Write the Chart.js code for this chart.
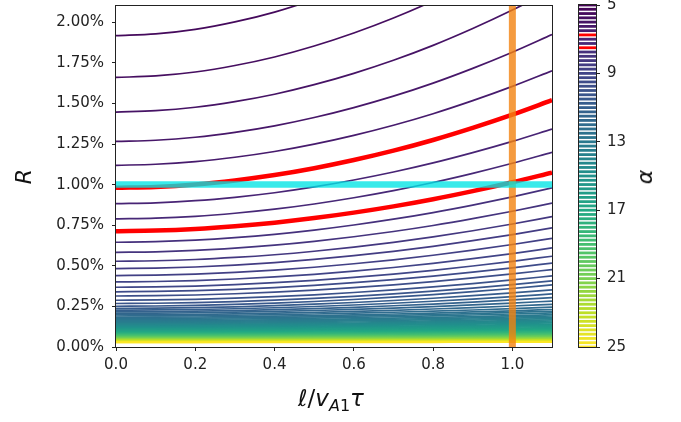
<!DOCTYPE html>
<html>
<head>
<meta charset="utf-8">
<script src="https://cdn.jsdelivr.net/npm/chart.js@4.4.1/dist/chart.umd.min.js"></script>
<style>
html, body { margin: 0; padding: 0; background: #fff; }
#wrap { position: relative; width: 681px; height: 422px; overflow: hidden; }
#main { position: absolute; left: 0; top: 0; }
#cbar { position: absolute; left: 560px; top: 0; }
.lbl { position: absolute; font-family: "DejaVu Sans"; color: #111; white-space: nowrap; line-height: 1; }
</style>
</head>
<body>
<div id="wrap">
  <canvas id="main" width="681" height="422"></canvas>
  <canvas id="cbar" width="121" height="422"></canvas>
  <div class="lbl" id="xlab" style="left:331px; top:387px; font-size:23px; transform:translateX(-50%);"><i>ℓ</i>/<i>v</i><span style="font-size:16px; position:relative; top:5px;"><i>A</i>1</span><i>τ</i></div>
  <div class="lbl" id="alab" style="left:645px; top:177px; font-size:22px; transform:translate(-50%,-50%) rotate(-90deg);"><i>α</i></div>
</div>
<script>
// niveaux de contour (alpha), de 5 a 25
const levels = [5.00,5.25,5.50,5.75,6.00,6.25,6.50,6.75,7.00,7.25,7.50,7.75,8.00,8.25,8.50,8.75,9.00,9.25,9.50,9.75,
  10.00,10.25,10.50,10.75,11.00,11.25,11.50,11.75,12.00,12.25,12.50,12.75,13.00,13.25,13.50,13.75,14.00,14.25,14.50,14.75,
  15.00,15.25,15.50,15.75,16.00,16.25,16.50,16.75,17.00,17.25,17.50,17.75,18.00,18.25,18.50,18.75,19.00,19.25,19.50,19.75,
  20.00,20.25,20.50,20.75,21.00,21.25,21.50,21.75,22.00,22.25,22.50,22.75,23.00,23.25,23.50,23.75,24.00,24.25,24.50,24.75,25.00];

// R (en %) de chaque contour a gauche (x = 0) et a droite (x = 1.1)
const rLeft = [2.90,2.36,1.917,1.660,1.447,1.266,1.119,0.980,0.883,0.789,0.713,0.645,0.583,0.528,0.483,0.440,0.401,0.368,0.340,0.314,
  0.288,0.268,0.251,0.238,0.227,0.217,0.208,0.199,0.191,0.183,0.176,0.169,0.162,0.156,0.150,0.144,0.139,0.134,0.129,0.124,
  0.119,0.115,0.111,0.107,0.103,0.099,0.096,0.093,0.090,0.087,0.084,0.081,0.078,0.076,0.073,0.071,0.069,0.066,0.064,0.062,
  0.060,0.058,0.056,0.054,0.052,0.050,0.048,0.047,0.045,0.043,0.042,0.040,0.039,0.037,0.036,0.034,0.033,0.032,0.030,0.029,0.028];
const rRight = [4.41,3.59,2.914,2.523,2.199,1.924,1.701,1.520,1.342,1.199,1.074,0.980,0.886,0.803,0.734,0.669,0.610,0.559,0.517,0.477,
  0.438,0.407,0.382,0.352,0.327,0.304,0.283,0.263,0.245,0.231,0.220,0.210,0.199,0.191,0.183,0.175,0.167,0.160,0.154,0.148,
  0.141,0.136,0.131,0.126,0.119,0.115,0.111,0.107,0.103,0.099,0.095,0.092,0.088,0.086,0.082,0.080,0.077,0.074,0.071,0.069,
  0.066,0.064,0.062,0.059,0.057,0.055,0.053,0.051,0.049,0.047,0.045,0.043,0.042,0.040,0.039,0.036,0.035,0.034,0.032,0.031,0.030];

// forme commune de la montee des courbes (fraction de la montee totale)
const xSamples = [0, 0.1, 0.2, 0.3, 0.4, 0.5, 0.6, 0.7, 0.8, 0.9, 1.0, 1.1];
const riseShape = [0, 0.011, 0.039, 0.085, 0.146, 0.224, 0.317, 0.424, 0.546, 0.684, 0.835, 1];

const redLevels = [6.75, 7.5];
const cyanR = 1.0;
const orangeX = 1.0;

const xTicks = [0, 0.2, 0.4, 0.6, 0.8, 1.0];
const yTicks = [0, 0.25, 0.5, 0.75, 1.0, 1.25, 1.5, 1.75, 2.0];
const cbTicks = [5, 9, 13, 17, 21, 25];

// palette viridis
const viridisStops = ['#440154','#482475','#414487','#355f8d','#2a788e','#21918c','#22a884','#44bf70','#7ad151','#bddf26','#fde725'];
function hexRgb(h) { return [1, 3, 5].map(k => parseInt(h.substr(k, 2), 16)); }
function viridis(t) {
  t = Math.min(1, Math.max(0, t)) * (viridisStops.length - 1);
  const i = Math.min(Math.floor(t), viridisStops.length - 2);
  const f = t - i;
  const a = hexRgb(viridisStops[i]), b = hexRgb(viridisStops[i + 1]);
  return 'rgb(' + a.map((v, k) => Math.round(v + (b[k] - v) * f)).join(',') + ')';
}
function levelColor(a) { return redLevels.includes(a) ? '#ff0000' : viridis((a - 5) / 20); }

const framePlugin = {
  id: 'frame',
  afterDatasetsDraw(chart) {
    const { ctx, chartArea: a } = chart;
    ctx.save();
    ctx.strokeStyle = '#222';
    ctx.lineWidth = 1;
    ctx.strokeRect(a.left - 0.5, a.top - 0.5, a.right - a.left + 1, a.bottom - a.top + 1);
    ctx.restore();
  }
};

const tickFont = { family: 'DejaVu Sans', size: 15 };

// courbes de niveau
const contourSets = levels.map((a, i) => ({
  data: xSamples.map((x, j) => ({ x: x, y: rLeft[i] + (rRight[i] - rLeft[i]) * riseShape[j] })),
  borderColor: levelColor(a),
  borderWidth: redLevels.includes(a) ? 4.5 : 1.7,
  cubicInterpolationMode: 'monotone',
  order: redLevels.includes(a) ? 10 : 1000 - i,
  clip: 0,
  pointRadius: 0
}));

const cyanSet = {
  data: [{ x: 0, y: cyanR }, { x: 1.1, y: cyanR }],
  borderColor: 'rgba(0,228,228,0.78)',
  borderWidth: 6.5,
  tension: 0,
  order: 1,
  clip: 0,
  pointRadius: 0
};
const orangeSet = {
  data: [{ x: orangeX, y: 0 }, { x: orangeX, y: 2.1 }],
  borderColor: 'rgba(243,130,15,0.8)',
  borderWidth: 7,
  tension: 0,
  order: 2,
  clip: 0,
  pointRadius: 0
};

new Chart(document.getElementById('main'), {
  type: 'line',
  data: { datasets: [...contourSets, cyanSet, orangeSet] },
  options: {
    responsive: false,
    animation: false,
    devicePixelRatio: 1,
    layout: { padding: { left: 0, top: 6, right: 129, bottom: 0 } },
    plugins: { legend: { display: false }, tooltip: { enabled: false } },
    scales: {
      x: {
        type: 'linear', min: 0, max: 1.1,
        afterBuildTicks: s => { s.ticks = xTicks.map(v => ({ value: v })); },
        afterFit: s => { s.height = 75; s.paddingLeft = 0; s.paddingRight = 0; },
        ticks: { callback: v => v.toFixed(1), font: tickFont, color: '#222', padding: 5, maxRotation: 0 },
        grid: { drawOnChartArea: false, drawTicks: true, tickLength: 4, color: '#222' },
        border: { display: false }
      },
      y: {
        type: 'linear', min: 0, max: 2.1,
        afterBuildTicks: s => { s.ticks = yTicks.map(v => ({ value: v })); },
        afterFit: s => { s.width = 116; s.paddingTop = 0; s.paddingBottom = 0; },
        ticks: { callback: v => v.toFixed(2) + '%', font: tickFont, color: '#222', padding: 8 },
        grid: { drawOnChartArea: false, drawTicks: true, tickLength: 4, color: '#222' },
        border: { display: false },
        title: { display: true, text: 'R', color: '#111', font: { family: 'DejaVu Sans', size: 22, style: 'italic' }, padding: { top: 12, bottom: 0 } }
      }
    }
  },
  plugins: [framePlugin]
});

// barre de couleur
new Chart(document.getElementById('cbar'), {
  type: 'line',
  data: {
    datasets: levels.map(a => ({
      data: [{ x: 0, y: a }, { x: 1, y: a }],
      borderColor: levelColor(a),
      borderWidth: 2.8,
      tension: 0,
      clip: 0,
      pointRadius: 0
    }))
  },
  options: {
    responsive: false,
    animation: false,
    devicePixelRatio: 1,
    layout: { padding: { left: 19, top: 5, right: 0, bottom: 75 } },
    plugins: { legend: { display: false }, tooltip: { enabled: false } },
    scales: {
      x: { type: 'linear', min: 0, max: 1, display: false },
      y: {
        type: 'linear', position: 'right', min: 5, max: 25, reverse: true,
        afterBuildTicks: s => { s.ticks = cbTicks.map(v => ({ value: v })); },
        afterFit: s => { s.width = 85; s.paddingTop = 0; s.paddingBottom = 0; },
        ticks: { font: tickFont, color: '#222', padding: 7 },
        grid: { drawOnChartArea: false, drawTicks: true, tickLength: 4, color: '#222' },
        border: { display: false }
      }
    }
  },
  plugins: [framePlugin]
});
</script>
</body>
</html>
